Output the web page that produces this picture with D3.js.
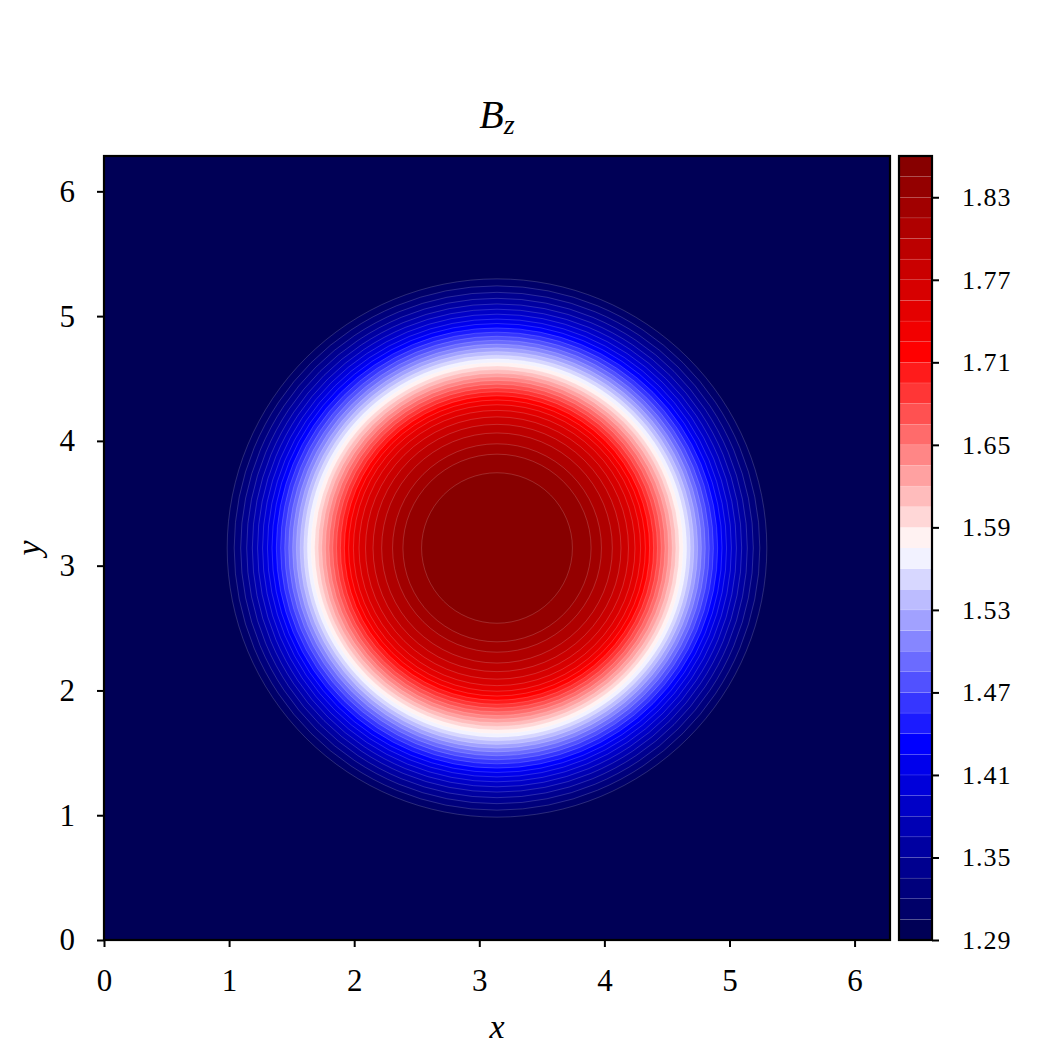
<!DOCTYPE html>
<html>
<head>
<meta charset="utf-8">
<script src="https://cdn.jsdelivr.net/npm/d3@7"></script>
<style>
  html, body { margin: 0; padding: 0; background: #fff; }
  svg text { font-family: "Liberation Serif", "DejaVu Serif", serif; fill: #000; }
</style>
</head>
<body>
<svg id="chart" width="1046" height="1046"></svg>
<script>
// Contour levels (Bz)
const levels = [1.290, 1.305, 1.320, 1.335, 1.350, 1.365, 1.380, 1.395, 1.410, 1.425,
                1.440, 1.455, 1.470, 1.485, 1.500, 1.515, 1.530, 1.545, 1.560, 1.575,
                1.590, 1.605, 1.620, 1.635, 1.650, 1.665, 1.680, 1.695, 1.710, 1.725,
                1.740, 1.755, 1.770, 1.785, 1.800, 1.815, 1.830, 1.845, 1.860];
// Radius (distance from centre, in x/y units) at which Bz crosses levels[1..37]
const levelRadii = [2.157, 2.101, 2.049, 2.001, 1.956, 1.914, 1.874, 1.835, 1.799, 1.764,
                    1.730, 1.697, 1.665, 1.634, 1.604, 1.574, 1.545, 1.516, 1.487, 1.458,
                    1.430, 1.401, 1.372, 1.343, 1.313, 1.283, 1.252, 1.220, 1.186, 1.148,
                    1.103, 1.051, 0.991, 0.922, 0.835, 0.752, 0.603];
const center = [3.1416, 3.1416];
const domainMax = 6.2832;
const axisTicks = [0, 1, 2, 3, 4, 5, 6];
const cbarTicks = [1.29, 1.35, 1.41, 1.47, 1.53, 1.59, 1.65, 1.71, 1.77, 1.83];

const svg = d3.select("#chart");

// layout
const plot = {left: 104, right: 890, top: 156, bottom: 940};
const cbar = {left: 899, right: 932, top: 156, bottom: 940};

const x = d3.scaleLinear().domain([0, domainMax]).range([plot.left, plot.right]);
const y = d3.scaleLinear().domain([0, domainMax]).range([plot.bottom, plot.top]);

// seismic colormap
const seismic = d3.scaleLinear()
  .domain([0, 0.25, 0.5, 0.75, 1])
  .range(["#00004d", "#0000ff", "#ffffff", "#ff0000", "#800000"])
  .interpolate(d3.interpolateRgb);
const vmin = levels[0], vmax = levels[levels.length - 1];
const bandColor = i => seismic(((levels[i] + levels[i + 1]) / 2 - vmin) / (vmax - vmin));

// clip
svg.append("defs").append("clipPath").attr("id", "plotclip")
  .append("rect").attr("x", plot.left).attr("y", plot.top)
  .attr("width", plot.right - plot.left).attr("height", plot.bottom - plot.top);

const g = svg.append("g").attr("clip-path", "url(#plotclip)");
// background band (lowest level)
g.append("rect").attr("x", plot.left).attr("y", plot.top)
  .attr("width", plot.right - plot.left).attr("height", plot.bottom - plot.top)
  .attr("fill", bandColor(0));

// filled contour bands as nested discs
const bands = levelRadii.map((r, i) => ({r: r, band: i + 1}));
g.selectAll("ellipse.band").data(bands).enter().append("ellipse")
  .attr("class", "band")
  .attr("cx", x(center[0]))
  .attr("cy", y(center[1]))
  .attr("rx", d => x(center[0] + d.r) - x(center[0]))
  .attr("ry", d => y(center[1]) - y(center[1] + d.r))
  .attr("fill", d => bandColor(d.band))
  .attr("stroke", "rgba(255,255,255,0.28)")
  .attr("stroke-width", 0.6);

// axes
const xAxis = d3.axisBottom(x).tickValues(axisTicks).tickFormat(d3.format("d")).tickSize(7).tickPadding(22);
const yAxis = d3.axisLeft(y).tickValues(axisTicks).tickFormat(d3.format("d")).tickSize(7).tickPadding(22);

const gx = svg.append("g").attr("transform", `translate(0,${plot.bottom})`).call(xAxis);
const gy = svg.append("g").attr("transform", `translate(${plot.left},0)`).call(yAxis);
[gx, gy].forEach(a => {
  a.attr("font-size", 31).attr("font-family", "'Liberation Serif', serif");
  a.select(".domain").remove();
  a.selectAll(".tick line").attr("stroke", "#000").attr("stroke-width", 2);
  a.selectAll(".tick text").style("font-size", "31px");
});

// frame
svg.append("rect").attr("x", plot.left).attr("y", plot.top)
  .attr("width", plot.right - plot.left).attr("height", plot.bottom - plot.top)
  .attr("fill", "none").attr("stroke", "#000").attr("stroke-width", 2.2);

// colorbar
const cy = d3.scaleLinear().domain([vmin, vmax]).range([cbar.bottom, cbar.top]);
const cbBands = d3.range(levels.length - 1);
svg.append("g").selectAll("rect").data(cbBands).enter().append("rect")
  .attr("x", cbar.left)
  .attr("width", cbar.right - cbar.left)
  .attr("y", i => cy(levels[i + 1]))
  .attr("height", i => cy(levels[i]) - cy(levels[i + 1]))
  .attr("fill", i => bandColor(i))
  .attr("stroke", "rgba(255,255,255,0.18)")
  .attr("stroke-width", 0.5);
const cAxis = d3.axisRight(cy).tickValues(cbarTicks).tickFormat(d3.format(".2f")).tickSize(7).tickPadding(23);
const gc = svg.append("g").attr("transform", `translate(${cbar.right},0)`).call(cAxis);
gc.attr("font-size", 26).attr("font-family", "'Liberation Serif', serif");
gc.select(".domain").remove();
gc.selectAll(".tick line").attr("stroke", "#000").attr("stroke-width", 2);
gc.selectAll(".tick text").style("font-size", "26px").style("letter-spacing", "1px");
svg.append("rect").attr("x", cbar.left).attr("y", cbar.top)
  .attr("width", cbar.right - cbar.left).attr("height", cbar.bottom - cbar.top)
  .attr("fill", "none").attr("stroke", "#000").attr("stroke-width", 2.2);

// title and labels
const title = svg.append("text").attr("x", 497).attr("y", 128)
  .attr("text-anchor", "middle").style("font-size", "40px");
title.append("tspan").style("font-style", "italic").text("B");
title.append("tspan").style("font-style", "italic").style("font-size", "28px").attr("dy", 6).text("z");

svg.append("text").attr("x", 497).attr("y", 1038)
  .attr("text-anchor", "middle").style("font-size", "34px").style("font-style", "italic").text("x");
svg.append("text").attr("transform", `translate(40,${(plot.top + plot.bottom) / 2}) rotate(-90)`)
  .attr("text-anchor", "middle").style("font-size", "34px").style("font-style", "italic").text("y");
</script>
</body>
</html>
